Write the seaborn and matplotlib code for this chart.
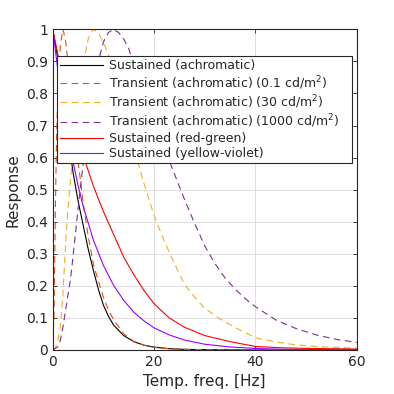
import matplotlib
matplotlib.use("Agg")
import matplotlib.pyplot as plt
import seaborn as sns

# ---- data ----
f_sa = [0, 1, 2, 3, 4, 5, 6, 7, 8, 9, 10, 11, 12, 14, 16, 18, 20, 23, 26, 30, 40, 60]
r_sa = [1.0, 0.91, 0.79, 0.67, 0.555, 0.465, 0.39, 0.315, 0.25, 0.19, 0.14, 0.105, 0.078,
        0.045, 0.026, 0.015, 0.009, 0.004, 0.002, 0.001, 0.0, 0.0]

f_t01 = [0, 0.25, 0.5, 0.75, 1.0, 1.5, 2.0, 2.5, 3, 3.5, 4, 5, 6, 7, 8, 9, 10, 11, 12, 14,
         16, 18, 20, 23, 26, 30, 40, 60]
r_t01 = [0.03, 0.1, 0.42, 0.65, 0.80, 0.95, 1.0, 0.97, 0.90, 0.82, 0.74, 0.59, 0.46, 0.355,
         0.27, 0.215, 0.165, 0.125, 0.095, 0.05, 0.027, 0.015, 0.008, 0.004, 0.002, 0.001, 0.0, 0.0]

f_t30 = [0, 0.5, 1, 1.5, 2, 2.5, 3, 3.5, 4, 5, 6, 7, 8, 9, 10, 11, 12, 13, 14, 15, 16, 17,
         18, 20, 22, 24, 26, 28, 30, 33, 36, 40, 44, 48, 52, 56, 60]
r_t30 = [0.0, 0.005, 0.03, 0.07, 0.17, 0.32, 0.44, 0.53, 0.61, 0.75, 0.89, 0.97, 1.0, 0.99,
         0.96, 0.92, 0.86, 0.79, 0.73, 0.67, 0.62, 0.575, 0.52, 0.42, 0.34, 0.27, 0.205, 0.165,
         0.13, 0.097, 0.07, 0.038, 0.025, 0.016, 0.011, 0.008, 0.006]

f_t1000 = [0, 1, 1.5, 2, 2.5, 3, 3.5, 4, 4.5, 5, 6, 7, 8, 9, 10, 11, 12, 13, 14, 15, 16, 18,
           20, 22, 24, 26, 28, 30, 32, 34, 36, 38, 40, 44, 48, 52, 56, 60]
r_t1000 = [0.0, 0.01, 0.03, 0.07, 0.12, 0.17, 0.22, 0.29, 0.365, 0.44, 0.58, 0.70, 0.81, 0.90,
           0.96, 0.99, 1.0, 0.99, 0.97, 0.94, 0.89, 0.79, 0.71, 0.63, 0.55, 0.47, 0.395, 0.325,
           0.27, 0.225, 0.19, 0.16, 0.135, 0.094, 0.067, 0.047, 0.033, 0.0235]

f_rg = [0, 1, 2, 3, 4, 5, 6, 8, 10, 12, 14, 16, 18, 20, 23, 26, 30, 35, 40, 45, 50, 55, 60]
r_rg = [1.0, 0.923, 0.852, 0.783, 0.719, 0.66, 0.607, 0.512, 0.432, 0.361, 0.29, 0.235, 0.186,
        0.144, 0.1, 0.071, 0.045, 0.026, 0.011, 0.007, 0.005, 0.004, 0.003]

f_yv = [0, 1, 2, 3, 4, 5, 6, 8, 10, 12, 14, 16, 18, 20, 23, 26, 30, 35, 40, 45, 50, 55, 60]
r_yv = [1.0, 0.875, 0.766, 0.67, 0.587, 0.513, 0.449, 0.344, 0.264, 0.202, 0.155, 0.118, 0.091,
        0.069, 0.047, 0.031, 0.018, 0.0094, 0.0048, 0.0025, 0.0013, 0.0007, 0.0003]

labels = ["Sustained (achromatic)",
          "Transient (achromatic) (0.1 cd/m$^2$)",
          "Transient (achromatic) (30 cd/m$^2$)",
          "Transient (achromatic) (1000 cd/m$^2$)",
          "Sustained (red-green)",
          "Sustained (yellow-violet)"]
x_ticks = [0, 20, 40, 60]
y_ticks = [0, 0.1, 0.2, 0.3, 0.4, 0.5, 0.6, 0.7, 0.8, 0.9, 1]
y_ticklabels = ["0", "0.1", "0.2", "0.3", "0.4", "0.5", "0.6", "0.7", "0.8", "0.9", "1"]

plt.rcParams['font.family'] = ['DejaVu Sans']
plt.rcParams['mathtext.fontset'] = 'dejavusans'

fig = plt.figure(figsize=(3.94, 3.94), dpi=100)
ax = fig.add_axes([0.1338, 0.1117, 0.7716, 0.8139])

series = [
    (f_sa, r_sa, "#000000", "-"),
    (f_t01, r_t01, "#D95319", "--"),
    (f_t30, r_t30, "#EDB120", "--"),
    (f_t1000, r_t1000, "#7E2F8E", "--"),
    (f_rg, r_rg, "#FF0000", "-"),
    (f_yv, r_yv, "#9900FF", "-"),
]
for (xs, ys, c, ls), lab in zip(series, labels):
    sns.lineplot(x=xs, y=ys, ax=ax, color=c, linewidth=0.8, label=lab, sort=False)
    line = ax.get_lines()[-1]
    if ls == "--":
        line.set_dashes((6, 4))

ax.set_xlim(0, 60)
ax.set_ylim(0, 1)
ax.set_xticks(x_ticks)
ax.set_yticks(y_ticks)
ax.set_yticklabels(y_ticklabels)
ax.grid(True, color="#D9D9D9", linewidth=0.6)
ax.set_axisbelow(True)
for s in ax.spines.values():
    s.set_color("#262626")
    s.set_linewidth(0.8)
ax.tick_params(direction="in", length=3, width=0.6, colors="#262626", labelsize=10,
               top=True, right=True, labelcolor="#262626")
ax.set_xlabel("Temp. freq. [Hz]", fontsize=11, color="#262626")
ax.set_ylabel("Response", fontsize=11, color="#262626")

leg = ax.legend(loc="upper left", bbox_to_anchor=(0.015, 0.582, 0.968, 0.335),
                mode="expand", borderaxespad=0,
                fontsize=9, frameon=True, fancybox=False, edgecolor="#262626",
                framealpha=1, handlelength=3.4, labelspacing=0.15, borderpad=0.25,
                handletextpad=0.5)
leg.get_frame().set_linewidth(0.8)
for t in leg.get_texts():
    t.set_color("#262626")

fig.savefig("out.png", dpi=100)
